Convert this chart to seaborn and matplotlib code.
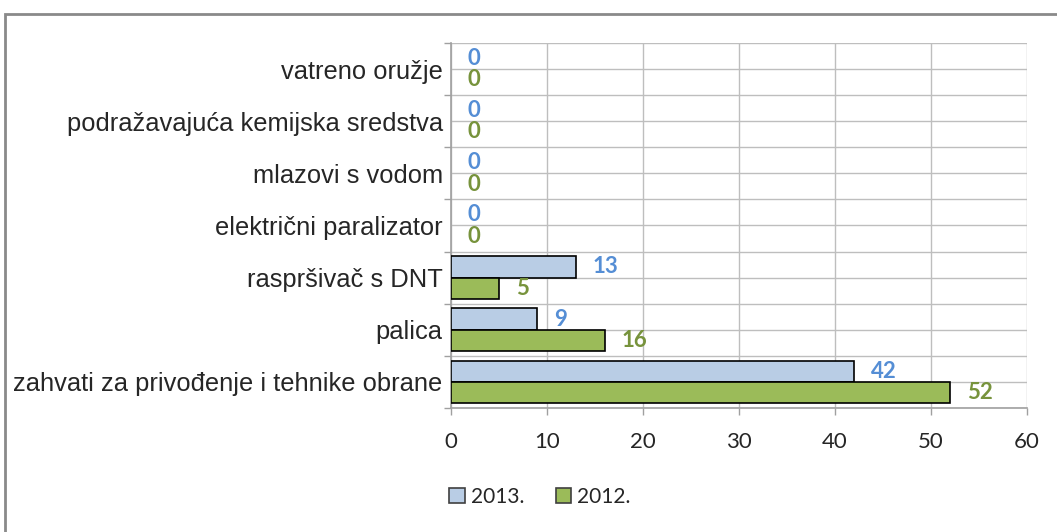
import matplotlib
matplotlib.use("Agg")
import matplotlib.pyplot as plt
import matplotlib.patches as mpatches
import seaborn as sns
import pandas as pd

kategorije = [
    "vatreno oružje",
    "podražavajuća kemijska sredstva",
    "mlazovi s vodom",
    "električni paralizator",
    "raspršivač s DNT",
    "palica",
    "zahvati za privođenje i tehnike obrane",
]
godine = ["2013.", "2012."]
vrijednosti_2013 = [0, 0, 0, 0, 13, 9, 42]
vrijednosti_2012 = [0, 0, 0, 0, 5, 16, 52]

boje_stupaca = ["#B9CDE5", "#9BBB59"]
boje_oznaka = ["#558ED5", "#77933C"]

df = pd.DataFrame({
    "kategorija": kategorije * 2,
    "godina": [godine[0]] * len(kategorije) + [godine[1]] * len(kategorije),
    "broj": vrijednosti_2013 + vrijednosti_2012,
})

sns.set_style("white")
plt.rcParams["font.family"] = ["Liberation Sans", "DejaVu Sans"]
brojke = ["Lato", "DejaVu Sans"]

fig = plt.figure(figsize=(10.57, 5.32), dpi=100)
ax = fig.add_axes([451 / 1057, 1 - 408 / 532, (1027 - 451) / 1057, (408 - 43) / 532])

sns.barplot(data=df, y="kategorija", x="broj", hue="godina", order=kategorije,
            hue_order=godine, palette=boje_stupaca, saturation=1, width=0.82, gap=0,
            edgecolor="black", linewidth=1.2, ax=ax, legend=False, zorder=3)

# stupci s vrijednosti 0 nemaju obrub
for p in ax.patches:
    if p.get_width() == 0:
        p.set_edgecolor("none")

for kont, boja in zip(ax.containers, boje_oznaka):
    ax.bar_label(kont, padding=12, color=boja, fontsize=16, fontweight="bold",
                 family=brojke)

n = len(kategorije)
ax.set_xlim(0, 60)
ax.set_ylim(n - 0.5, -0.5)
ax.set_xticks(range(0, 61, 10))
ax.set_yticks(range(n), kategorije)
ax.set_yticks([i - 0.5 for i in range(n + 1)], minor=True)
ax.tick_params(axis="y", which="major", length=0, pad=6, labelsize=18.4)
ax.tick_params(axis="y", which="minor", length=5, width=1, color="#A0A0A0", left=True)
ax.tick_params(axis="x", length=5, width=1, color="#A0A0A0", labelsize=16, pad=12, bottom=True)
for t in ax.get_xticklabels():
    t.set_family(brojke)
ax.grid(True, axis="x", color="#BEBEBE", lw=1, zorder=0)
ax.grid(True, axis="y", which="both", color="#BEBEBE", lw=1, zorder=0)
ax.set_xlabel("")
ax.set_ylabel("")
for s in ["top", "right"]:
    ax.spines[s].set_visible(False)
for s in ["left", "bottom"]:
    ax.spines[s].set_color("#A0A0A0")
    ax.spines[s].set_linewidth(1.2)

ruke = [mpatches.Patch(facecolor=c, edgecolor="#404040", linewidth=1.2) for c in boje_stupaca]
fig.legend(ruke, godine, loc="center", bbox_to_anchor=(540 / 1057, 1 - 497 / 532),
           ncol=2, frameon=False, handlelength=0.75, handleheight=0.75,
           handletextpad=0.3, columnspacing=1.5, prop={"family": brojke, "size": 15})

okvir = mpatches.Rectangle((5 / 1057, -0.1), 1.2, 1 - 14 / 532 + 0.1,
                           transform=fig.transFigure, fill=False,
                           edgecolor="#8A8A8A", linewidth=2, clip_on=False)
fig.patches.append(okvir)

fig.savefig("out.png", dpi=100)
